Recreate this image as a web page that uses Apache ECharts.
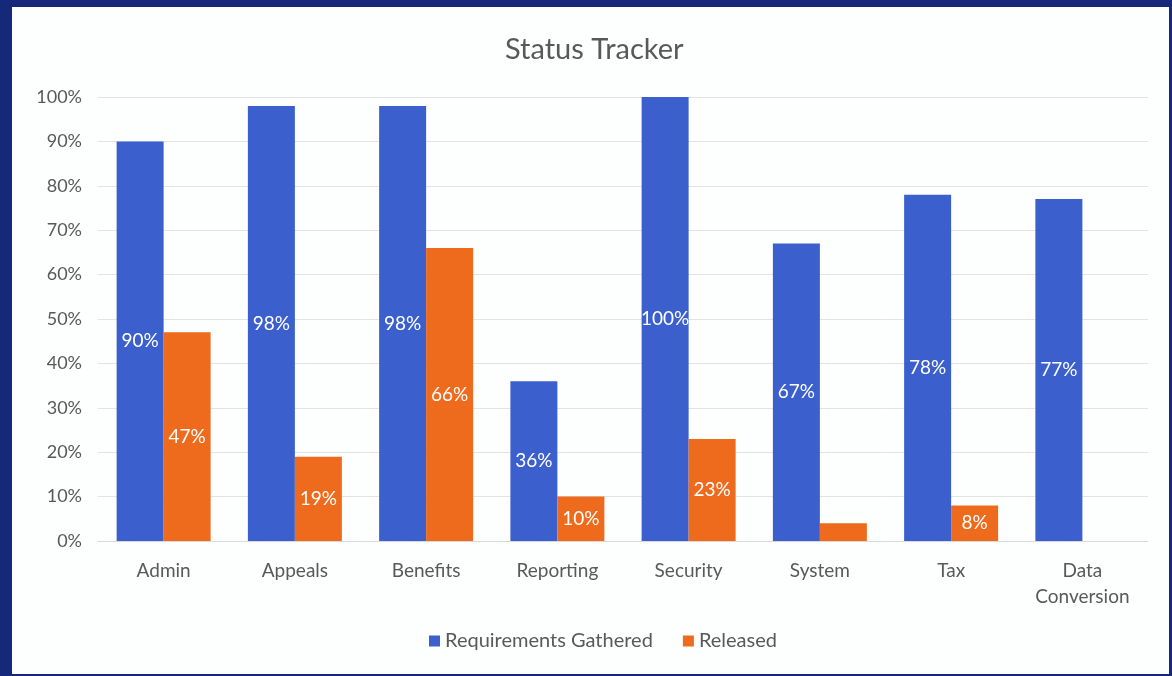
<!DOCTYPE html>
<html>
<head>
<meta charset="utf-8">
<script src="https://cdn.jsdelivr.net/npm/echarts@6/dist/echarts.min.js"></script>
<style>
html,body{margin:0;padding:0;}
#frame{position:absolute;left:0;top:0;width:1172px;height:676px;background:#16287a;}
#panel{position:absolute;left:12px;top:7px;width:1157px;height:667px;background:#fdfefe;}
#chart{position:absolute;left:0;top:0;width:1172px;height:676px;}
</style>
</head>
<body>
<div id="frame"></div>
<div id="panel"></div>
<div id="chart"></div>
<script>
const categories = ['Admin', 'Appeals', 'Benefits', 'Reporting', 'Security', 'System', 'Tax', 'Data\nConversion'];
const requirementsGathered = [90, 98, 98, 36, 100, 67, 78, 77];
const released = [47, 19, 66, 10, 23, 4, 8, 0];
const yTicks = [0, 10, 20, 30, 40, 50, 60, 70, 80, 90, 100];

const font = 'Lato, "Open Sans", "Noto Sans", sans-serif';
const chart = echarts.init(document.getElementById('chart'));
chart.setOption({
  backgroundColor: 'transparent',
  textStyle: { fontFamily: font },
  title: {
    text: 'Status Tracker',
    left: 500,
    top: 30,
    textStyle: { fontFamily: font, fontSize: 29, fontWeight: 'normal', color: '#595959' }
  },
  legend: {
    bottom: 20,
    left: 424,
    itemWidth: 11,
    itemHeight: 11,
    itemGap: 30,
    icon: 'rect',
    textStyle: { fontFamily: font, fontSize: 20, color: '#595959' },
    data: ['Requirements Gathered', 'Released']
  },
  grid: { left: 98, right: 24, top: 97, bottom: 135 },
  xAxis: {
    type: 'category',
    data: categories,
    axisLine: { show: true, lineStyle: { color: '#d9d9d9' } },
    axisTick: { show: false },
    axisLabel: { fontFamily: font, fontSize: 19, color: '#595959', margin: 17, lineHeight: 26 }
  },
  yAxis: {
    type: 'value',
    min: yTicks[0],
    max: yTicks[yTicks.length - 1],
    interval: 10,
    axisLine: { show: false },
    axisTick: { show: false },
    splitLine: { lineStyle: { color: '#e3e3e3', width: 1 } },
    axisLabel: { fontFamily: font, fontSize: 18, color: '#595959', margin: 16, formatter: '{value}%' }
  },
  series: [
    {
      name: 'Requirements Gathered',
      type: 'bar',
      data: requirementsGathered,
      barWidth: 47,
      barGap: '0%',
      itemStyle: { color: '#3b5fcd' },
      label: { show: true, position: 'inside', color: '#ffffff', fontFamily: font, fontSize: 19, formatter: '{c}%' }
    },
    {
      name: 'Released',
      type: 'bar',
      data: released,
      barWidth: 47,
      barGap: '0%',
      itemStyle: { color: '#ee6a1d' },
      label: {
        show: true, position: 'inside', color: '#ffffff', fontFamily: font, fontSize: 19,
        formatter: p => (p.value >= 8 ? p.value + '%' : '')
      }
    }
  ]
});
</script>
</body>
</html>
